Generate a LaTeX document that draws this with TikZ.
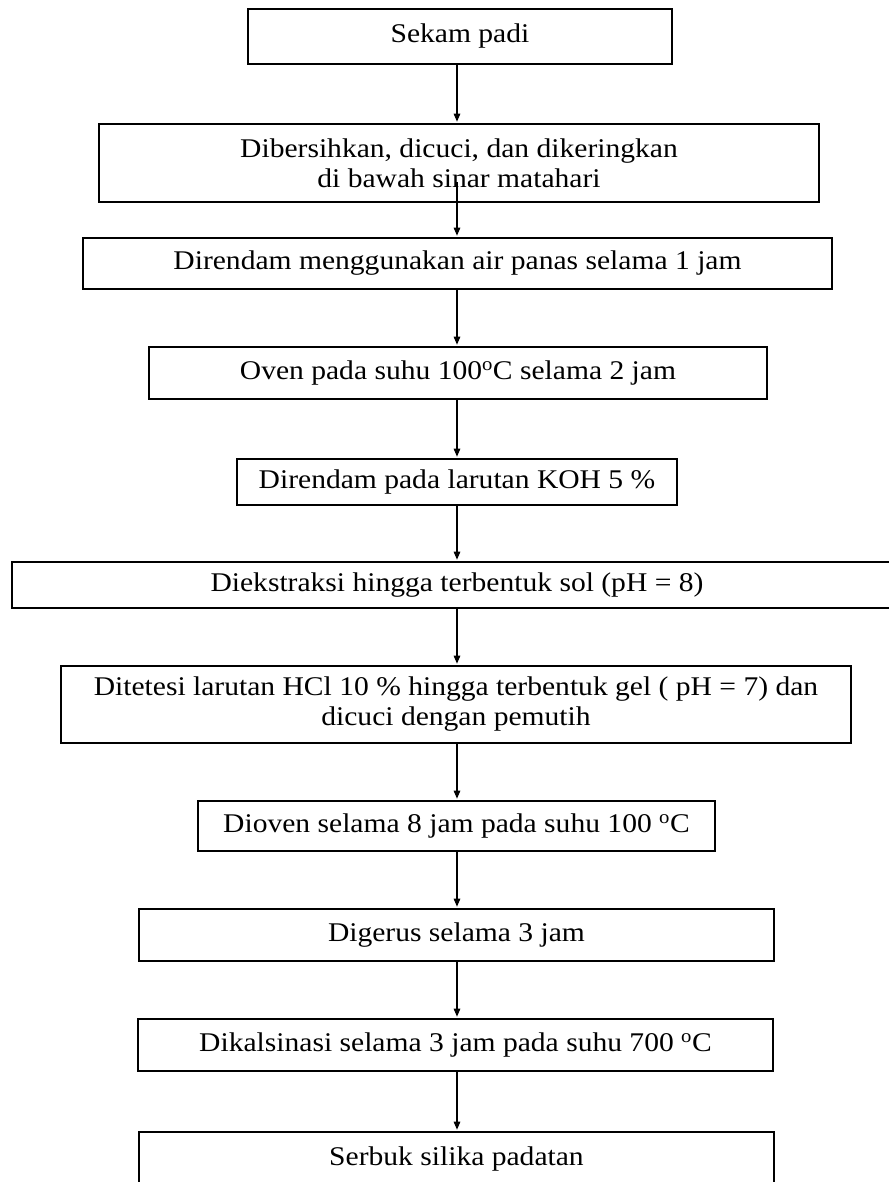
\documentclass[tikz,border=0pt]{standalone}
\usepackage{fontspec}
\setmainfont[FakeStretch=1.095]{Liberation Serif}
\usetikzlibrary{arrows.meta}
\begin{document}
\begin{tikzpicture}[x=1bp,y=-1bp,
  stepbox/.style={draw=black, line width=1.6bp, inner sep=0pt, align=center,
    font=\fontsize{27bp}{30bp}\selectfont},
  arr/.style={draw=black, line width=1.2bp, -{Triangle[length=8bp,width=6.5bp]}, shorten >=1.5bp}]
\clip (0,0) rectangle (889,1182);
\useasboundingbox (0,0) rectangle (889,1182);
\fill[white] (0,0) rectangle (889,1182);
\coordinate (axis) at (457,0);

\node[stepbox, minimum width=424bp, minimum height=55bp] (b1) at (460,36.5) {Sekam padi};
\node[stepbox, minimum width=720bp, minimum height=78bp] (b2) at (459,163) {Dibersihkan, dicuci, dan dikeringkan\\di bawah sinar matahari};
\node[stepbox, minimum width=749bp, minimum height=51bp] (b3) at (457.5,263.5) {Direndam menggunakan air panas selama 1 jam};
\node[stepbox, minimum width=618bp, minimum height=52bp] (b4) at (458,373) {Oven pada suhu 100\textsuperscript{o}C selama 2 jam};
\node[stepbox, minimum width=440bp, minimum height=46bp] (b5) at (457,482) {Direndam pada larutan KOH 5 \%};
\node[stepbox, minimum width=890bp, minimum height=46bp] (b6) at (457,585) {Diekstraksi hingga terbentuk sol (pH = 8)};
\node[stepbox, minimum width=790bp, minimum height=77bp] (b7) at (456,704.5) {Ditetesi larutan HCl 10 \% hingga terbentuk gel ( pH = 7) dan\\dicuci dengan pemutih};
\node[stepbox, minimum width=517bp, minimum height=50bp] (b8) at (456.5,826) {Dioven selama 8 jam pada suhu 100 \textsuperscript{o}C};
\node[stepbox, minimum width=635bp, minimum height=52bp] (b9) at (456.5,935) {Digerus selama 3 jam};
\node[stepbox, minimum width=635bp, minimum height=52bp] (b10) at (455.5,1045) {Dikalsinasi selama 3 jam pada suhu 700 \textsuperscript{o}C};
\node[stepbox, minimum width=635bp, minimum height=54bp] (b11) at (456.5,1159) {Serbuk silika padatan};

\coordinate (s2) at (457,182);

\draw[arr] (b1.south -| axis) -- (b2.north -| axis);
\draw[arr] (s2) -- (b3.north -| axis);
\draw[arr] (b3.south -| axis) -- (b4.north -| axis);
\draw[arr] (b4.south -| axis) -- (b5.north -| axis);
\draw[arr] (b5.south -| axis) -- (b6.north -| axis);
\draw[arr] (b6.south -| axis) -- (b7.north -| axis);
\draw[arr] (b7.south -| axis) -- (b8.north -| axis);
\draw[arr] (b8.south -| axis) -- (b9.north -| axis);
\draw[arr] (b9.south -| axis) -- (b10.north -| axis);
\draw[arr] (b10.south -| axis) -- (b11.north -| axis);
\end{tikzpicture}
\end{document}
